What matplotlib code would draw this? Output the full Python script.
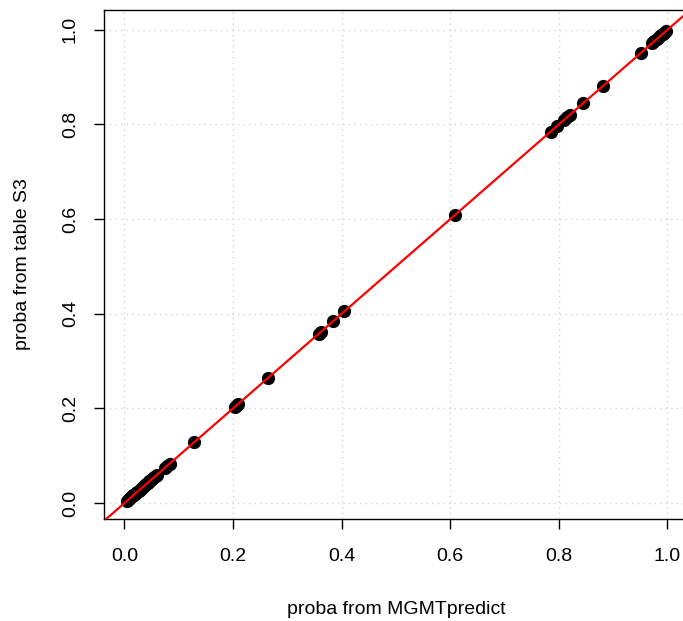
import numpy as np
import matplotlib.pyplot as plt

plt.rcParams['font.family'] = ['Liberation Sans', 'DejaVu Sans']

# probabilities: MGMTpredict (x) vs table S3 (y)
proba_pred = [0.005, 0.008, 0.010, 0.012, 0.014, 0.016, 0.018, 0.020, 0.022,
              0.024, 0.026, 0.028, 0.030, 0.032, 0.034, 0.036, 0.038, 0.040,
              0.043, 0.046, 0.049, 0.052, 0.055, 0.058, 0.060, 0.075, 0.078,
              0.083, 0.128, 0.204, 0.208, 0.210, 0.265, 0.358, 0.362, 0.385,
              0.405, 0.608, 0.785, 0.797, 0.810, 0.815, 0.820, 0.845, 0.882,
              0.952, 0.972, 0.976, 0.980, 0.984, 0.988, 0.991, 0.994, 0.997]
proba_s3 = [0.005, 0.008, 0.010, 0.012, 0.014, 0.016, 0.018, 0.020, 0.022,
            0.024, 0.026, 0.028, 0.030, 0.032, 0.034, 0.036, 0.038, 0.040,
            0.043, 0.046, 0.049, 0.052, 0.055, 0.058, 0.060, 0.075, 0.078,
            0.083, 0.128, 0.204, 0.208, 0.210, 0.265, 0.358, 0.362, 0.385,
            0.405, 0.608, 0.785, 0.797, 0.810, 0.815, 0.820, 0.845, 0.882,
            0.952, 0.972, 0.976, 0.980, 0.984, 0.988, 0.991, 0.994, 0.997]
ticks = [0.0, 0.2, 0.4, 0.6, 0.8, 1.0]

fig = plt.figure(figsize=(6.83, 6.21), dpi=100)
ax = fig.add_axes([0.152, 0.164, 0.857, 0.820])

ax.grid(True, color='#d3d3d3', linestyle=(0, (1, 3)), linewidth=1)
ax.set_axisbelow(True)
ax.plot(proba_pred, proba_s3, 'o', color='black', markersize=8.5, zorder=2)
ax.axline((0, 0), slope=1, color='red', linewidth=1.6, zorder=3)

ax.set_xlim(-0.038, 1.04)
ax.set_ylim(-0.034, 1.042)
ax.set_xticks(ticks)
ax.set_yticks(ticks)
ax.set_xticklabels([f'{t:.1f}' for t in ticks])
ax.set_yticklabels([f'{t:.1f}' for t in ticks], rotation=90, va='center')
ax.tick_params(direction='out', length=7, width=1, labelsize=14)
ax.tick_params(axis='x', pad=14)
ax.tick_params(axis='y', pad=11)
for s in ax.spines.values():
    s.set_color('black')
    s.set_linewidth(1)

ax.set_xlabel('proba from MGMTpredict', fontsize=14, labelpad=26)
ax.set_ylabel('proba from table S3', fontsize=14, labelpad=22)

fig.savefig('out.png', dpi=100)
